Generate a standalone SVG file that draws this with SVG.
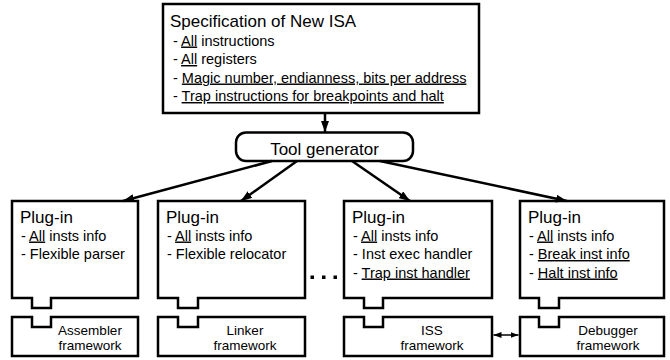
<svg xmlns="http://www.w3.org/2000/svg" width="670" height="360" viewBox="0 0 670 360">
<defs>
<marker id="ah" markerUnits="userSpaceOnUse" markerWidth="11" markerHeight="8" refX="11" refY="4" orient="auto"><path d="M0,0 L11,4 L0,8 z" fill="#000"/></marker>
<marker id="sh" markerUnits="userSpaceOnUse" markerWidth="8" markerHeight="6" refX="8" refY="3" orient="auto-start-reverse"><path d="M0,0 L8,3 L0,6 z" fill="#000"/></marker>
<style>
.box{fill:#fff;stroke:#000;stroke-width:2.5;stroke-linejoin:miter}
.t{font-family:"Liberation Sans",Arial,sans-serif;fill:#000}
.h{font-size:17px}
.s{font-size:14.5px}
.f{font-size:13.5px;text-anchor:middle}
.u{text-decoration:underline}
.c{stroke:#000;stroke-width:2.5;fill:none}
</style>
</defs>
<g id="spec">
<rect class="box" x="163" y="4" width="316" height="109"/>
<text class="t h" x="170" y="27">Specification of New ISA</text>
<text class="t s" x="173" y="45.5">- <tspan class="u">All</tspan> instructions</text>
<text class="t s" x="173" y="64">- <tspan class="u">All</tspan> registers</text>
<text class="t s" x="173" y="82.5">- <tspan class="u">Magic number, endianness, bits per address</tspan></text>
<text class="t s" x="173" y="101">- <tspan class="u">Trap instructions for breakpoints and halt</tspan></text>
</g>
<g id="toolgen">
<rect class="box" x="236" y="132.5" width="177" height="28.5" rx="10"/>
<text class="t h" x="324.5" y="154.5" text-anchor="middle">Tool generator</text>
</g>
<g id="plugin1">
<path class="box" d="M12,201 H138 V298 H51 V308 H32 V298 H12 Z"/>
<text class="t h" x="20" y="223">Plug-in</text>
<text class="t s" x="21" y="240.5">- <tspan class="u">All</tspan> insts info</text>
<text class="t s" x="21" y="259">- Flexible parser</text>
</g>
<g id="plugin2">
<path class="box" d="M158,201 H305 V298 H198 V308 H178 V298 H158 Z"/>
<text class="t h" x="166" y="223">Plug-in</text>
<text class="t s" x="167" y="240.5">- <tspan class="u">All</tspan> insts info</text>
<text class="t s" x="167" y="259">- Flexible relocator</text>
</g>
<g id="plugin3">
<path class="box" d="M344,201 H492 V298 H383 V308 H364 V298 H344 Z"/>
<text class="t h" x="352" y="223">Plug-in</text>
<text class="t s" x="353" y="240.5">- <tspan class="u">All</tspan> insts info</text>
<text class="t s" x="353" y="259">- Inst exec handler</text>
<text class="t s" x="353" y="277.5">- <tspan class="u">Trap inst handler</tspan></text>
</g>
<g id="plugin4">
<path class="box" d="M520,201 H664 V298 H559 V308 H539 V298 H520 Z"/>
<text class="t h" x="528" y="223">Plug-in</text>
<text class="t s" x="529" y="240.5">- <tspan class="u">All</tspan> insts info</text>
<text class="t s" x="529" y="259">- <tspan class="u">Break inst info</tspan></text>
<text class="t s" x="529" y="277.5">- <tspan class="u">Halt inst info</tspan></text>
</g>
<g id="assembler">
<path class="box" d="M12,317 H32 V327 H51 V317 H138 V356 H12 Z"/>
<text class="t f" x="90" y="334.5">Assembler</text>
<text class="t f" x="90" y="349.8">framework</text>
</g>
<g id="linker">
<path class="box" d="M158,317 H178 V327 H198 V317 H305 V356 H158 Z"/>
<text class="t f" x="245" y="334.5">Linker</text>
<text class="t f" x="245" y="349.8">framework</text>
</g>
<g id="iss">
<path class="box" d="M344,317 H364 V327 H383 V317 H492 V356 H344 Z"/>
<text class="t f" x="432" y="334.5">ISS</text>
<text class="t f" x="432" y="349.8">framework</text>
</g>
<g id="debugger">
<path class="box" d="M520,317 H539 V327 H559 V317 H664 V356 H520 Z"/>
<text class="t f" x="608" y="334.5">Debugger</text>
<text class="t f" x="608" y="349.8">framework</text>
</g>
<g id="ellipsis" fill="#000">
<rect x="310.5" y="275.5" width="3.5" height="3.5"/>
<rect x="322" y="275.5" width="3.5" height="3.5"/>
<rect x="333.5" y="275.5" width="3.5" height="3.5"/>
</g>
<g id="connectors">
<line class="c" x1="325" y1="113" x2="325" y2="132" marker-end="url(#ah)"/>
<line class="c" x1="272" y1="161" x2="123" y2="201" marker-end="url(#ah)"/>
<line class="c" x1="297" y1="161" x2="241" y2="201" marker-end="url(#ah)"/>
<line class="c" x1="352" y1="161" x2="410" y2="201" marker-end="url(#ah)"/>
<line class="c" x1="380" y1="161" x2="567" y2="201" marker-end="url(#ah)"/>
<line x1="493.5" y1="335" x2="518.5" y2="335" stroke="#000" stroke-width="1.5" marker-start="url(#sh)" marker-end="url(#sh)"/>
</g>
</svg>
